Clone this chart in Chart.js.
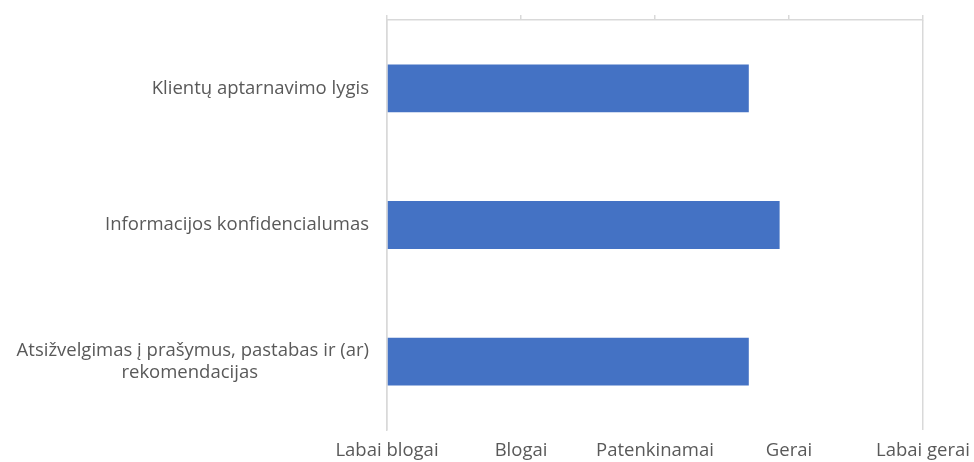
<!DOCTYPE html>
<html>
<head>
<meta charset="utf-8">
<script src="https://cdn.jsdelivr.net/npm/chart.js@4"></script>
<style>
  html, body { margin: 0; padding: 0; background: #fff; }
  #wrap { width: 974px; height: 462px; }
</style>
</head>
<body>
<div id="wrap"><canvas id="myChart"></canvas></div>
<script>
const categories = [
  'Klientų aptarnavimo lygis',
  'Informacijos konfidencialumas',
  ['Atsižvelgimas į prašymus, pastabas ir (ar)', 'rekomendacijas\u2003\u2003\u2003\u2003\u2003\u2003']
];
const scores = [3.70, 3.93, 3.70];
const scaleLabels = ['Labai blogai', 'Blogai', 'Patenkinamai', 'Gerai', 'Labai gerai'];

const barColor = '#4472C4';
const lineColor = '#d9d9d9';
const textColor = '#595959';
const font = { family: 'Open Sans', size: 18.5 };

const ctx = document.getElementById('myChart');

new Chart(ctx, {
  type: 'bar',
  data: {
    labels: categories,
    datasets: [{
      data: scores,
      base: 1,
      backgroundColor: barColor,
      borderWidth: 0,
      barPercentage: 0.35,
      categoryPercentage: 1,
      xAxisID: 'x'
    }]
  },
  options: {
    indexAxis: 'y',
    responsive: true,
    maintainAspectRatio: false,
    animation: false,
    layout: { padding: { top: 15, right: 51, left: 0, bottom: 0 } },
    plugins: { legend: { display: false }, tooltip: { enabled: false } },
    scales: {
      x: {
        position: 'bottom',
        min: 1,
        max: 5,
        ticks: {
          stepSize: 1,
          color: textColor,
          font: font,
          padding: 10,
          callback: (v) => scaleLabels[v - 1]
        },
        grid: {
          drawTicks: false,
          color: (c) => (c.index === 0 || c.index === scaleLabels.length - 1) ? lineColor : 'rgba(0,0,0,0)',
          lineWidth: 1.5
        },
        border: { display: false },
        afterFit: (s) => { s.height = 32; s.paddingLeft = 0; s.paddingRight = 0; }
      },
      x2: {
        position: 'top',
        min: 1,
        max: 5,
        ticks: { stepSize: 1, display: false },
        grid: { drawOnChartArea: false, drawTicks: true, tickLength: 5, color: lineColor, lineWidth: 1.5 },
        border: { display: true, color: lineColor, width: 1.5 },
        afterFit: (s) => { s.height = 5; }
      },
      y: {
        ticks: { color: textColor, font: font, padding: 10, crossAlign: 'near' },
        grid: { display: false },
        border: { display: true, color: lineColor, width: 1.5 },
        afterFit: (s) => { s.width = 387; s.paddingTop = 0; s.paddingBottom = 0; }
      }
    }
  }
});
</script>
</body>
</html>
